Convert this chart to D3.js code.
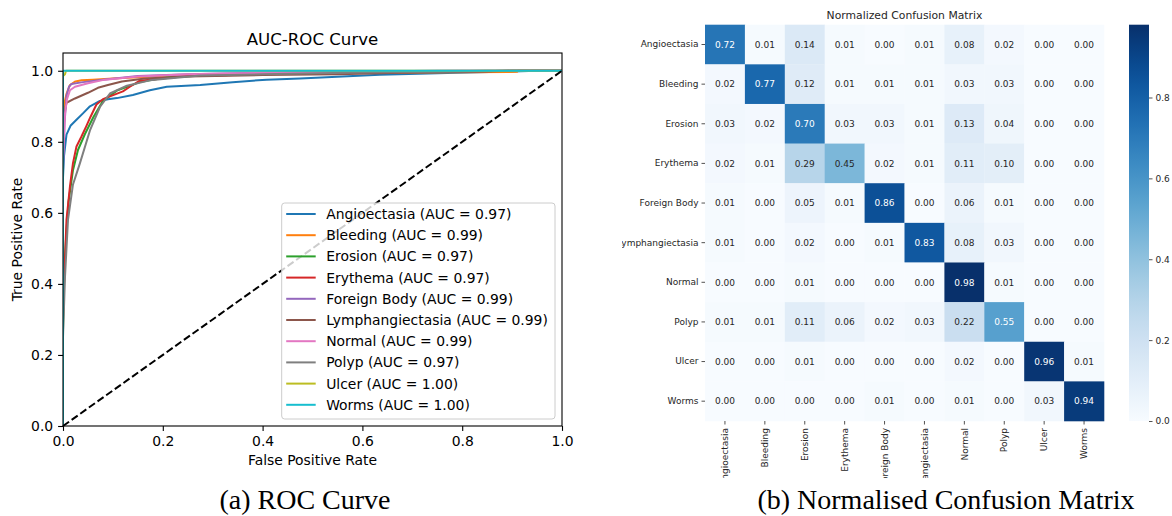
<!DOCTYPE html>
<html>
<head>
<meta charset="utf-8">
<script src="https://cdn.jsdelivr.net/npm/d3@7"></script>
<style>
    body { margin: 0; background: #fff; }
    svg { display: block; font-family: "DejaVu Sans", sans-serif; }
</style>
</head>
<body>
<div id="chart"></div>
<script>
// ---------- data ----------
const classNames = ["Angioectasia", "Bleeding", "Erosion", "Erythema", "Foreign Body",
    "Lymphangiectasia", "Normal", "Polyp", "Ulcer", "Worms"];
const aucValues = [0.97, 0.99, 0.97, 0.97, 0.99, 0.99, 0.99, 0.97, 1.00, 1.00];

// ROC points: [fpr, tpr]
const rocAngioectasia = [[0,0],[0,0.70],[0.002,0.76],[0.007,0.82],[0.015,0.845],[0.027,0.862],[0.04,0.88],
    [0.054,0.90],[0.074,0.915],[0.09,0.92],[0.108,0.923],[0.14,0.932],[0.174,0.945],[0.208,0.955],
    [0.275,0.96],[0.34,0.968],[0.408,0.975],[0.475,0.978],[0.56,0.984],[0.635,0.989],[0.77,0.994],
    [0.9,0.998],[0.95,1],[1,1]];
const rocBleeding = [[0,0],[0,0.88],[0.003,0.91],[0.007,0.935],[0.014,0.96],[0.025,0.97],[0.037,0.973],
    [0.06,0.975],[0.1,0.978],[0.2,0.985],[0.3,0.99],[0.5,0.993],[0.7,0.995],[0.91,0.997],[0.912,1],[1,1]];
const rocErosion = [[0,0],[0,0.27],[0.003,0.45],[0.007,0.55],[0.011,0.63],[0.02,0.72],[0.03,0.777],
    [0.044,0.822],[0.061,0.87],[0.08,0.915],[0.108,0.944],[0.154,0.968],[0.208,0.982],[0.3,0.988],
    [0.5,0.993],[0.7,0.997],[0.85,1],[1,1]];
const rocErythema = [[0,0],[0,0.30],[0.002,0.40],[0.004,0.47],[0.007,0.58],[0.014,0.675],[0.02,0.74],
    [0.027,0.787],[0.037,0.815],[0.047,0.845],[0.055,0.87],[0.067,0.905],[0.08,0.92],[0.094,0.928],
    [0.12,0.942],[0.134,0.955],[0.154,0.972],[0.25,0.985],[0.4,0.99],[0.6,0.995],[0.8,0.998],[0.9,1],[1,1]];
const rocForeignBody = [[0,0],[0,0.72],[0.003,0.85],[0.007,0.93],[0.012,0.955],[0.017,0.963],[0.04,0.968],
    [0.08,0.975],[0.15,0.985],[0.25,0.99],[0.4,0.995],[0.6,0.998],[0.75,1],[1,1]];
const rocLymphangiectasia = [[0,0],[0,0.80],[0.003,0.88],[0.007,0.91],[0.024,0.922],[0.05,0.938],
    [0.07,0.952],[0.09,0.96],[0.118,0.97],[0.164,0.978],[0.25,0.984],[0.4,0.988],[0.55,0.99],
    [0.7,0.995],[0.85,0.998],[0.9,1],[1,1]];
const rocNormal = [[0,0],[0,0.75],[0.004,0.88],[0.008,0.92],[0.014,0.945],[0.024,0.955],[0.05,0.965],
    [0.084,0.975],[0.15,0.984],[0.25,0.99],[0.4,0.994],[0.6,0.997],[0.8,1],[1,1]];
const rocPolyp = [[0,0],[0,0.25],[0.004,0.42],[0.01,0.58],[0.02,0.68],[0.034,0.74],[0.054,0.832],
    [0.074,0.898],[0.094,0.936],[0.128,0.958],[0.174,0.973],[0.275,0.987],[0.4,0.99],[0.6,0.995],
    [0.8,0.998],[0.9,1],[1,1]];
const rocUlcer = [[0,0],[0,0.985],[0.004,0.99],[0.006,1],[1,1]];
const rocWorms = [[0,0],[0,1],[1,1]];
const rocCurves = [rocAngioectasia, rocBleeding, rocErosion, rocErythema, rocForeignBody,
    rocLymphangiectasia, rocNormal, rocPolyp, rocUlcer, rocWorms];
const rocTicks = [0, 0.2, 0.4, 0.6, 0.8, 1.0];

// normalized confusion matrix, rows = true class
const confusionRows = [
    [0.72, 0.01, 0.14, 0.01, 0.00, 0.01, 0.08, 0.02, 0.00, 0.00],
    [0.02, 0.77, 0.12, 0.01, 0.01, 0.01, 0.03, 0.03, 0.00, 0.00],
    [0.03, 0.02, 0.70, 0.03, 0.03, 0.01, 0.13, 0.04, 0.00, 0.00],
    [0.02, 0.01, 0.29, 0.45, 0.02, 0.01, 0.11, 0.10, 0.00, 0.00],
    [0.01, 0.00, 0.05, 0.01, 0.86, 0.00, 0.06, 0.01, 0.00, 0.00],
    [0.01, 0.00, 0.02, 0.00, 0.01, 0.83, 0.08, 0.03, 0.00, 0.00],
    [0.00, 0.00, 0.01, 0.00, 0.00, 0.00, 0.98, 0.01, 0.00, 0.00],
    [0.01, 0.01, 0.11, 0.06, 0.02, 0.03, 0.22, 0.55, 0.00, 0.00],
    [0.00, 0.00, 0.01, 0.00, 0.00, 0.00, 0.02, 0.00, 0.96, 0.01],
    [0.00, 0.00, 0.00, 0.00, 0.01, 0.00, 0.01, 0.00, 0.03, 0.94]
];
const colorbarTicks = [0, 0.2, 0.4, 0.6, 0.8];

// ---------- page ----------
const svg = d3.select("#chart").append("svg")
    .attr("width", 1172)
    .attr("height", 516);
const defs = svg.append("defs");

// ================= (a) ROC curve =================
const roc = {left: 63, right: 562, top: 53, bottom: 426};
const x = d3.scaleLinear().domain([0, 1]).range([roc.left, roc.right]);
const y = d3.scaleLinear().domain([0, 1.05]).range([roc.bottom, roc.top]);

defs.append("clipPath").attr("id", "rocClip")
    .append("rect")
    .attr("x", roc.left).attr("y", roc.top)
    .attr("width", roc.right - roc.left).attr("height", roc.bottom - roc.top);

const rocG = svg.append("g");

const line = d3.line().x(d => x(d[0])).y(d => y(d[1]));

rocG.append("g").attr("clip-path", "url(#rocClip)")
    .selectAll("path.roc")
    .data(rocCurves)
    .join("path")
    .attr("class", "roc")
    .attr("d", line)
    .attr("fill", "none")
    .attr("stroke", (d, i) => d3.schemeCategory10[i])
    .attr("stroke-width", 2)
    .attr("stroke-linejoin", "round");

// chance diagonal
rocG.append("path")
    .attr("d", line([[0, 0], [1, 1]]))
    .attr("fill", "none")
    .attr("stroke", "#000")
    .attr("stroke-width", 2)
    .attr("stroke-dasharray", "7.4,3.2");

// axes
const xAxis = rocG.append("g")
    .attr("transform", `translate(0,${roc.bottom})`)
    .call(d3.axisBottom(x).tickValues(rocTicks).tickFormat(d3.format(".1f")).tickSize(4.9).tickPadding(4.9));
const yAxis = rocG.append("g")
    .attr("transform", `translate(${roc.left},0)`)
    .call(d3.axisLeft(y).tickValues(rocTicks).tickFormat(d3.format(".1f")).tickSize(4.9).tickPadding(4.9));
[xAxis, yAxis].forEach(a => {
    a.select(".domain").remove();
    a.selectAll("text").attr("font-size", 13.9).attr("fill", "#000")
        .attr("font-family", "DejaVu Sans");
    a.selectAll("line").attr("stroke", "#000").attr("stroke-width", 1.1);
});

rocG.append("rect")
    .attr("x", roc.left).attr("y", roc.top)
    .attr("width", roc.right - roc.left).attr("height", roc.bottom - roc.top)
    .attr("fill", "none").attr("stroke", "#000").attr("stroke-width", 1.1);

rocG.append("text")
    .attr("x", (roc.left + roc.right) / 2).attr("y", 45)
    .attr("text-anchor", "middle").attr("font-size", 16.6)
    .text("AUC-ROC Curve");
rocG.append("text")
    .attr("x", (roc.left + roc.right) / 2).attr("y", 465)
    .attr("text-anchor", "middle").attr("font-size", 13.9)
    .text("False Positive Rate");
rocG.append("text")
    .attr("transform", `translate(22,${(roc.top + roc.bottom) / 2}) rotate(-90)`)
    .attr("text-anchor", "middle").attr("font-size", 13.9)
    .text("True Positive Rate");

// legend (lower right)
const legend = {left: 281.7, right: 555, top: 203, bottom: 419, firstRow: 214, rowStep: 21.2};
const legendG = rocG.append("g");
legendG.append("rect")
    .attr("x", legend.left).attr("y", legend.top)
    .attr("width", legend.right - legend.left).attr("height", legend.bottom - legend.top)
    .attr("rx", 3)
    .attr("fill", "#fff").attr("fill-opacity", 0.8)
    .attr("stroke", "#ccc").attr("stroke-width", 1);
const legendRows = legendG.selectAll("g.entry")
    .data(classNames)
    .join("g")
    .attr("class", "entry")
    .attr("transform", (d, i) => `translate(${legend.left + 4.5},${legend.firstRow + i * legend.rowStep})`);
legendRows.append("line")
    .attr("x1", 0).attr("x2", 29.5)
    .attr("stroke", (d, i) => d3.schemeCategory10[i])
    .attr("stroke-width", 2);
legendRows.append("text")
    .attr("x", 40).attr("dy", "0.36em")
    .attr("font-size", 13.9)
    .text((d, i) => `${d} (AUC = ${aucValues[i].toFixed(2)})`);

// ================= (b) confusion matrix =================
const cm = {left: 705, right: 1104, top: 24.7, bottom: 421};
const colX = d3.scaleBand().domain(classNames).range([cm.left, cm.right]);
const rowY = d3.scaleBand().domain(classNames).range([cm.top, cm.bottom]);
const color = d3.scaleSequential(d3.interpolateBlues).domain([0, 0.98]);

defs.append("clipPath").attr("id", "cmClip")
    .append("rect").attr("x", 622).attr("y", 0).attr("width", 560).attr("height", 478);

const cmG = svg.append("g").attr("clip-path", "url(#cmClip)");

const cells = confusionRows.flatMap((row, r) => row.map((v, c) => ({r, c, v})));

function textColor(v) {
    // seaborn picks dark or white annotation text from the cell luminance
    const rgb = d3.rgb(color(v));
    const lin = [rgb.r, rgb.g, rgb.b].map(ch => {
        ch /= 255;
        return ch <= 0.03928 ? ch / 12.92 : Math.pow((ch + 0.055) / 1.055, 2.4);
    });
    const lum = 0.2126 * lin[0] + 0.7152 * lin[1] + 0.0722 * lin[2];
    return lum > 0.408 ? "#262626" : "#fff";
}

cmG.selectAll("rect.cell")
    .data(cells)
    .join("rect")
    .attr("class", "cell")
    .attr("x", d => colX(classNames[d.c]))
    .attr("y", d => rowY(classNames[d.r]))
    .attr("width", colX.bandwidth() + 0.3)
    .attr("height", rowY.bandwidth() + 0.3)
    .attr("fill", d => color(d.v));

cmG.selectAll("text.val")
    .data(cells)
    .join("text")
    .attr("class", "val")
    .attr("x", d => colX(classNames[d.c]) + colX.bandwidth() / 2)
    .attr("y", d => rowY(classNames[d.r]) + rowY.bandwidth() / 2)
    .attr("dy", "0.36em")
    .attr("text-anchor", "middle")
    .attr("font-size", 9)
    .attr("fill", d => textColor(d.v))
    .text(d => d.v.toFixed(2));

const cmY = cmG.append("g")
    .attr("transform", `translate(${cm.left},0)`)
    .call(d3.axisLeft(rowY).tickSize(3.5).tickPadding(3));
const cmX = cmG.append("g")
    .attr("transform", `translate(0,${cm.bottom})`)
    .call(d3.axisBottom(colX).tickSize(3.5).tickPadding(3));
[cmX, cmY].forEach(a => {
    a.select(".domain").remove();
    a.selectAll("text").attr("font-size", 9).attr("fill", "#262626")
        .attr("font-family", "DejaVu Sans");
    a.selectAll("line").attr("stroke", "#262626").attr("stroke-width", 0.8);
});
cmX.selectAll("text")
    .attr("transform", "rotate(-90)")
    .attr("text-anchor", "end")
    .attr("x", -7)
    .attr("y", 0)
    .attr("dy", "0.35em");

cmG.append("text")
    .attr("x", (cm.left + cm.right) / 2).attr("y", 19)
    .attr("text-anchor", "middle").attr("font-size", 10.8)
    .attr("fill", "#262626")
    .text("Normalized Confusion Matrix");

// colorbar
const cb = {left: 1129, width: 20};
const cbScale = d3.scaleLinear().domain([0, 0.98]).range([cm.bottom, cm.top]);
const grad = defs.append("linearGradient").attr("id", "cbGrad")
    .attr("x1", 0).attr("y1", 1).attr("x2", 0).attr("y2", 0);
grad.selectAll("stop")
    .data(d3.range(0, 1.0001, 0.05))
    .join("stop")
    .attr("offset", d => d)
    .attr("stop-color", d => color(d * 0.98));
cmG.append("rect")
    .attr("x", cb.left).attr("y", cm.top)
    .attr("width", cb.width).attr("height", cm.bottom - cm.top)
    .attr("fill", "url(#cbGrad)");
const cbAxis = cmG.append("g")
    .attr("transform", `translate(${cb.left + cb.width},0)`)
    .call(d3.axisRight(cbScale).tickValues(colorbarTicks).tickFormat(d3.format(".1f")).tickSize(3.5).tickPadding(3));
cbAxis.select(".domain").remove();
cbAxis.selectAll("text").attr("font-size", 9).attr("fill", "#262626").attr("font-family", "DejaVu Sans");
cbAxis.selectAll("line").attr("stroke", "#262626").attr("stroke-width", 0.8);

// ================= captions =================
svg.append("text")
    .attr("x", 305).attr("y", 509)
    .attr("text-anchor", "middle")
    .attr("font-family", "Liberation Serif, serif").attr("font-size", 28)
    .text("(a) ROC Curve");
svg.append("text")
    .attr("x", 946).attr("y", 509)
    .attr("text-anchor", "middle")
    .attr("font-family", "Liberation Serif, serif").attr("font-size", 28)
    .text("(b) Normalised Confusion Matrix");
</script>
</body>
</html>
